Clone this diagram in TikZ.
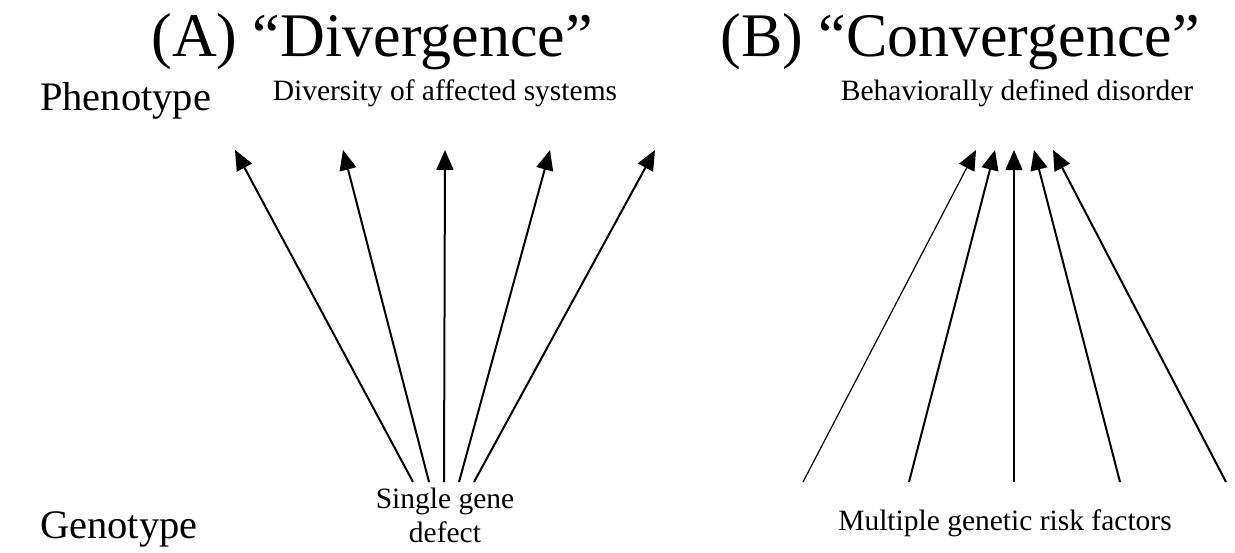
\documentclass[tikz,border=0pt]{standalone}
\usepackage{fontspec}
\setmainfont{Liberation Serif}
\usetikzlibrary{arrows.meta}
\begin{document}
\begin{tikzpicture}[x=1pt,y=-1pt,
  title/.style={inner sep=0pt,anchor=base,font=\fontsize{62}{66}\selectfont},
  side/.style={inner sep=0pt,anchor=base west,font=\fontsize{40.5}{44}\selectfont},
  lab/.style={inner sep=0pt,anchor=base,font=\fontsize{29.5}{34}\selectfont,align=center},
  thick arrow/.style={line width=2pt,-{Triangle[length=20pt,width=17pt]}},
  thin arrow/.style={line width=1.2pt,-{Triangle[length=20pt,width=17pt]}}]
\useasboundingbox (0,0) rectangle (1235,552);
\node[title] (ta) at (372,56) {(A) “Divergence”};
\node[title] (tb) at (960,56) {(B) “Convergence”};
\node[side] (ph) at (40,110) {Phenotype};
\node[side] (ge) at (40,538) {Genotype};
\node[lab] (div) at (445,100) {Diversity of affected systems};
\node[lab] (beh) at (1017,100) {Behaviorally defined disorder};
\node[lab] (sg) at (445,508) {Single gene};
\node[lab] (de) at (445,542) {defect};
\node[lab] (mg) at (1005,530) {Multiple genetic risk factors};
% panel A
\coordinate (a1) at (413,482); \coordinate (A1) at (235,150);
\coordinate (a2) at (429,482); \coordinate (A2) at (343,150);
\coordinate (a3) at (444,482); \coordinate (A3) at (445,150);
\coordinate (a4) at (459,482); \coordinate (A4) at (550,150);
\coordinate (a5) at (474,482); \coordinate (A5) at (655,150);
\foreach \i in {1,...,5} \draw[thick arrow] (a\i) -- (A\i);
% panel B
\coordinate (b1) at (803,482); \coordinate (B1) at (976,150);
\coordinate (b2) at (909,482); \coordinate (B2) at (995,150);
\coordinate (b3) at (1014,482); \coordinate (B3) at (1014,150);
\coordinate (b4) at (1120,482); \coordinate (B4) at (1034,150);
\coordinate (b5) at (1226,482); \coordinate (B5) at (1053,150);
\draw[thin arrow] (b1) -- (B1);
\draw[thick arrow] (b2) -- (B2);
\draw[thin arrow] (b3) -- (B3);
\draw[thick arrow] (b4) -- (B4);
\draw[thick arrow] (b5) -- (B5);
\end{tikzpicture}
\end{document}
